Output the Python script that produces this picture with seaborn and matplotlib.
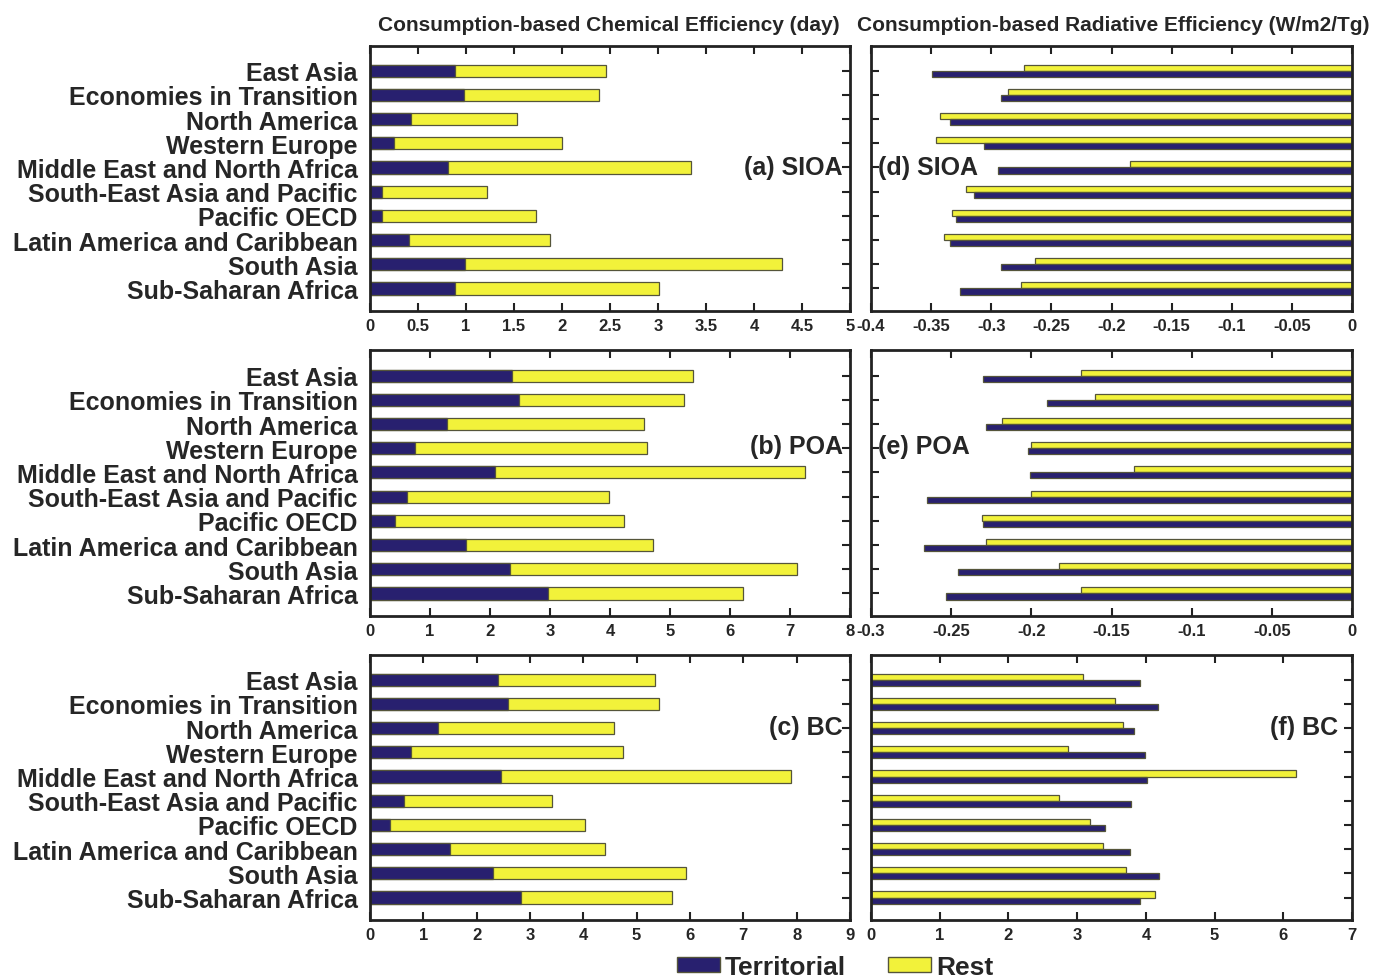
import numpy as np
import pandas as pd
import matplotlib
matplotlib.use("Agg")
import matplotlib.pyplot as plt
from matplotlib.patches import Patch
from matplotlib.transforms import blended_transform_factory
import seaborn as sns

regions = ["East Asia", "Economies in Transition", "North America", "Western Europe",
           "Middle East and North Africa", "South-East Asia and Pacific", "Pacific OECD",
           "Latin America and Caribbean", "South Asia", "Sub-Saharan Africa"]

# Chemical efficiency (day): territorial part and rest, stacked
sioa_chem_terr = [0.89, 0.98, 0.43, 0.25, 0.81, 0.13, 0.13, 0.41, 0.99, 0.89]
sioa_chem_rest = [1.57, 1.41, 1.10, 1.75, 2.53, 1.09, 1.60, 1.46, 3.30, 2.12]
poa_chem_terr = [2.37, 2.48, 1.29, 0.75, 2.09, 0.62, 0.41, 1.60, 2.34, 2.96]
poa_chem_rest = [3.02, 2.76, 3.28, 3.87, 5.16, 3.36, 3.83, 3.12, 4.77, 3.26]
bc_chem_terr = [2.40, 2.58, 1.27, 0.76, 2.46, 0.64, 0.37, 1.50, 2.30, 2.83]
bc_chem_rest = [2.94, 2.83, 3.31, 3.98, 5.44, 2.77, 3.67, 2.90, 3.62, 2.83]

# Radiative efficiency (W/m2/Tg): territorial vs rest, side by side
sioa_rad_terr = [-0.349, -0.292, -0.334, -0.306, -0.294, -0.314, -0.329, -0.334, -0.292, -0.326]
sioa_rad_rest = [-0.273, -0.286, -0.343, -0.346, -0.185, -0.321, -0.333, -0.339, -0.264, -0.275]
poa_rad_terr = [-0.230, -0.190, -0.228, -0.202, -0.201, -0.265, -0.230, -0.267, -0.246, -0.253]
poa_rad_rest = [-0.169, -0.160, -0.218, -0.200, -0.136, -0.200, -0.231, -0.228, -0.183, -0.169]
bc_rad_terr = [3.91, 4.18, 3.83, 3.98, 4.02, 3.79, 3.41, 3.77, 4.19, 3.91]
bc_rad_rest = [3.09, 3.55, 3.67, 2.87, 6.18, 2.74, 3.19, 3.38, 3.71, 4.13]

chem_ticks = [np.arange(0, 5.01, 0.5), np.arange(0, 8.01, 1), np.arange(0, 9.01, 1)]
rad_ticks = [np.arange(-0.4, 0.001, 0.05), np.arange(-0.3, 0.001, 0.05), np.arange(0, 7.01, 1)]

NAVY = "#28206f"
YELLOW = "#f2f23a"
EDGE = "#55553a"
FONT = "Liberation Sans"

sns.set_theme(style="white")
plt.rcParams["font.family"] = [FONT, "DejaVu Sans"]
plt.rcParams["font.weight"] = "bold"

fig = plt.figure(figsize=(13.76, 9.79), dpi=100)

rows_bottom = [0.6813, 0.3698, 0.0592]
row_h = 0.2712
left_x, left_w = 0.2689, 0.3488
right_x, right_w = 0.6330, 0.3496


def fmt(v):
    s = "%g" % round(v, 3)
    return "0" if s == "-0" else s


def style_axis(ax, ticks):
    ax.set_xlim(ticks[0], ticks[-1])
    ax.set_ylim(9.93, -1.04)
    ax.set_xticks(ticks)
    ax.set_xticklabels([fmt(t) for t in ticks])
    ax.tick_params(axis="both", direction="in", length=6, width=1.5, color="#222222",
                   top=True, right=True, bottom=True, left=True, labelsize=12,
                   pad=5)
    for lab in ax.get_xticklabels():
        lab.set_fontweight("bold")
    for sp in ax.spines.values():
        sp.set_visible(True)
        sp.set_linewidth(2.0)
        sp.set_color("#222222")
    ax.set_xlabel("")
    ax.set_ylabel("")
    ax.grid(False)


chem_sets = [(sioa_chem_terr, sioa_chem_rest), (poa_chem_terr, poa_chem_rest),
             (bc_chem_terr, bc_chem_rest)]
rad_sets = [(sioa_rad_terr, sioa_rad_rest), (poa_rad_terr, poa_rad_rest),
            (bc_rad_terr, bc_rad_rest)]
left_labels = ["(a) SIOA", "(b) POA", "(c) BC"]
right_labels = ["(d) SIOA", "(e) POA", "(f) BC"]
label_rows = [4.0, 2.9, 1.95]

for i in range(3):
    # stacked chemical-efficiency bars
    ax = fig.add_axes([left_x, rows_bottom[i], left_w, row_h])
    terr, rest = chem_sets[i]
    total = [t + r for t, r in zip(terr, rest)]
    sns.barplot(x=total, y=regions, orient="h", color=YELLOW, saturation=1,
                width=0.5, edgecolor=EDGE, linewidth=0.9, ax=ax)
    sns.barplot(x=terr, y=regions, orient="h", color=NAVY, saturation=1,
                width=0.5, edgecolor=EDGE, linewidth=0.9, ax=ax)
    style_axis(ax, chem_ticks[i])
    ax.set_yticks(range(len(regions)))
    ax.set_yticklabels(regions, fontsize=18, fontweight="bold")
    ax.tick_params(axis="y", pad=9)
    tr = blended_transform_factory(ax.transAxes, ax.transData)
    ax.text(0.985, label_rows[i], left_labels[i], transform=tr, ha="right",
            va="center", fontsize=18, fontweight="bold")

    # grouped radiative-efficiency bars
    ax2 = fig.add_axes([right_x, rows_bottom[i], right_w, row_h])
    terr2, rest2 = rad_sets[i]
    df = pd.DataFrame({
        "region": regions * 2,
        "value": list(rest2) + list(terr2),
        "part": ["Rest"] * len(regions) + ["Territorial"] * len(regions),
    })
    sns.barplot(data=df, x="value", y="region", hue="part", orient="h",
                hue_order=["Rest", "Territorial"], palette=[YELLOW, NAVY],
                saturation=1, width=0.5, edgecolor=EDGE, linewidth=0.9,
                legend=False, ax=ax2)
    style_axis(ax2, rad_ticks[i])
    ax2.set_yticks(range(len(regions)))
    ax2.set_yticklabels([])
    tr2 = blended_transform_factory(ax2.transAxes, ax2.transData)
    if i < 2:
        ax2.text(0.015, label_rows[i], right_labels[i], transform=tr2, ha="left",
                 va="center", fontsize=18, fontweight="bold")
    else:
        ax2.text(0.97, label_rows[i], right_labels[i], transform=tr2, ha="right",
                 va="center", fontsize=18, fontweight="bold")

fig.text(0.2747, 0.974, "Consumption-based Chemical Efficiency (day)", ha="left",
         va="center", fontsize=15, fontweight="bold")
fig.text(0.6228, 0.974, "Consumption-based Radiative Efficiency (W/m2/Tg)", ha="left",
         va="center", fontsize=15, fontweight="bold")

handles = [Patch(facecolor=NAVY, edgecolor=EDGE, label="Territorial"),
           Patch(facecolor=YELLOW, edgecolor=EDGE, label="Rest")]
fig.legend(handles=handles, loc="center", bbox_to_anchor=(0.607, 0.011),
           ncol=2, frameon=False, handlelength=1.6, handleheight=0.5,
           handletextpad=0.2, columnspacing=1.6, borderpad=0.2,
           prop={"family": FONT, "weight": "bold", "size": 19})

fig.savefig("out.png", dpi=100, facecolor="white")
